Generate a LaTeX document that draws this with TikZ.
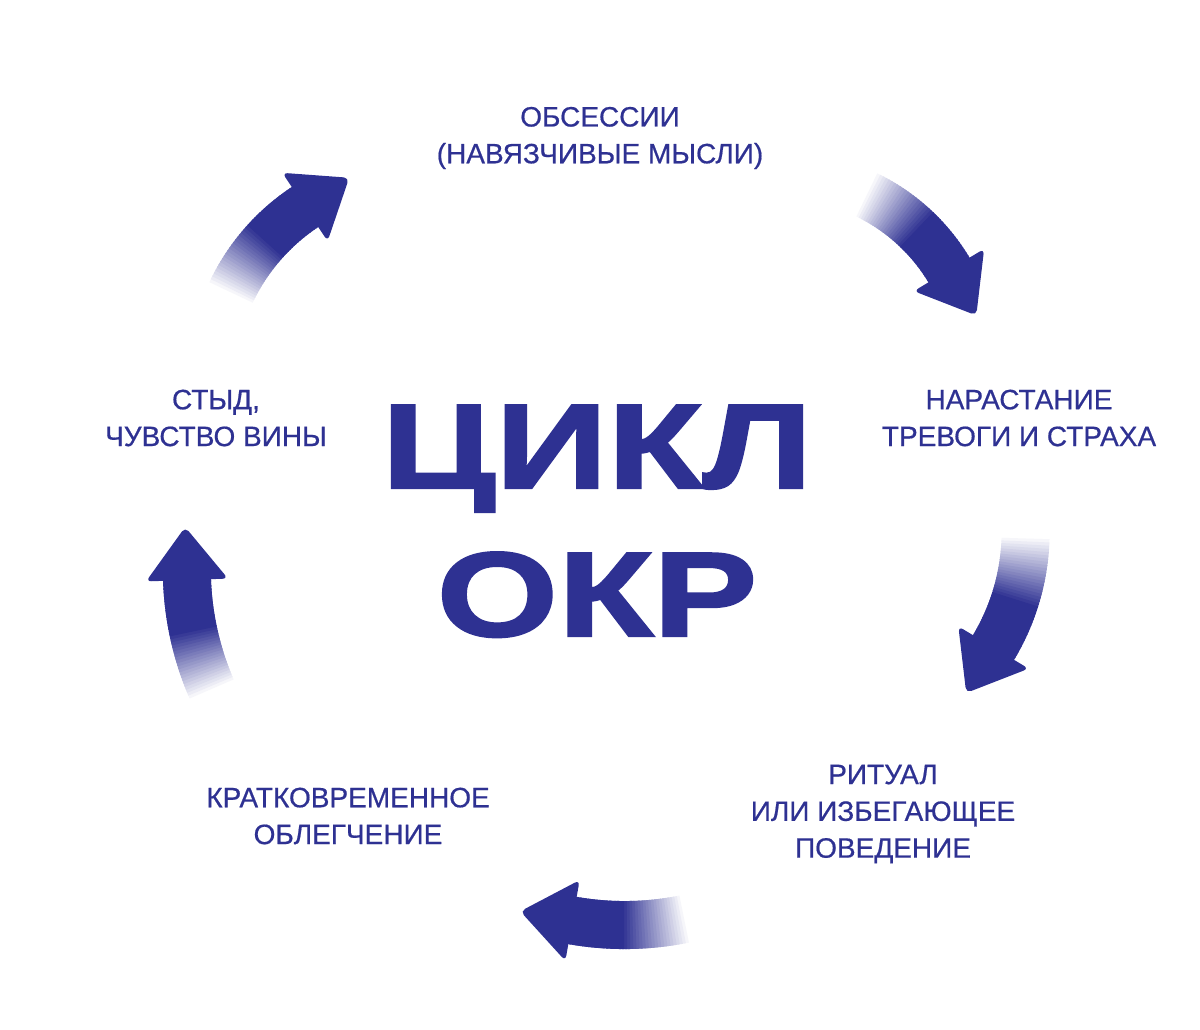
\documentclass[tikz,border=0pt]{standalone}
\usepackage{fontspec}
\setmainfont{Liberation Sans}[FakeBold=0.6]
\newfontfamily\titlefont[FakeStretch=1.3,FakeBold=2]{Liberation Sans}
\usetikzlibrary{positioning}

\definecolor{okrblue}{HTML}{2E3192}

\tikzset{
  steplabel/.style={text=okrblue, align=center, inner sep=0pt,
    font=\fontsize{21}{27.6}\selectfont},
  titleword/.style={text=okrblue, inner sep=0pt, anchor=base,
    font=\titlefont\bfseries\fontsize{90}{100}\selectfont},
}

% curved arrow: head base (#1,#2), heading #3, radius #4, sweep #5
\newcommand{\cyclearrow}[5]{%
  \begin{scope}[shift={(#1,#2)}]
    \begin{scope}[shift={(#3+90:#4)}]
      \foreach \i in {0,...,39}{
        \pgfmathsetmacro{\angA}{#3-90-#5+#5*\i/40}
        \pgfmathsetmacro{\angB}{\angA+#5/40+0.4}
        \pgfmathsetmacro{\pct}{min(100,\i*100/22)}
        \fill[okrblue!\pct!white] (\angA:#4+24) arc[start angle=\angA, end angle=\angB, radius=#4+24]
          -- (\angB:#4-24) arc[start angle=\angB, end angle=\angA, radius=#4-24] -- cycle;
      }
    \end{scope}
    \fill[okrblue, rounded corners=4pt] (#3+90:41) -- (#3:53) -- (#3-90:41) -- cycle;
  \end{scope}}

\begin{document}
\begin{tikzpicture}[x=0.75pt,y=0.75pt,yscale=-1,xscale=1]
\path (0,0) rectangle (1200,1029); %frame of the picture

% Title
\node [titleword] (cycle) at (597,488) {ЦИКЛ};
\node [titleword] (okr) at (597,636) {ОКР};

% Steps of the cycle
\node [steplabel] (obsess) at (600,138) {ОБСЕССИИ\\(НАВЯЗЧИВЫЕ МЫСЛИ)};
\node [steplabel] (anxiety) at (1019,418) {НАРАСТАНИЕ\\ТРЕВОГИ И СТРАХА};
\node [steplabel] (ritual) at (883,814) {РИТУАЛ\\ИЛИ ИЗБЕГАЮЩЕЕ\\ПОВЕДЕНИЕ};
\node [steplabel] (relief) at (348,816) {КРАТКОВРЕМЕННОЕ\\ОБЛЕГЧЕНИЕ};
\node [steplabel] (shame) at (216,418) {СТЫД,\\ЧУВСТВО ВИНЫ};

% Arrows between the steps
\cyclearrow{305}{207}{-33.5}{210}{32}
\cyclearrow{949}{270}{59}{195}{34}
\cyclearrow{993.5}{647.5}{121}{225}{30}
\cyclearrow{572.5}{920.5}{190}{300}{22}
\cyclearrow{187}{580}{-92}{300}{22}

\end{tikzpicture}
\end{document}
